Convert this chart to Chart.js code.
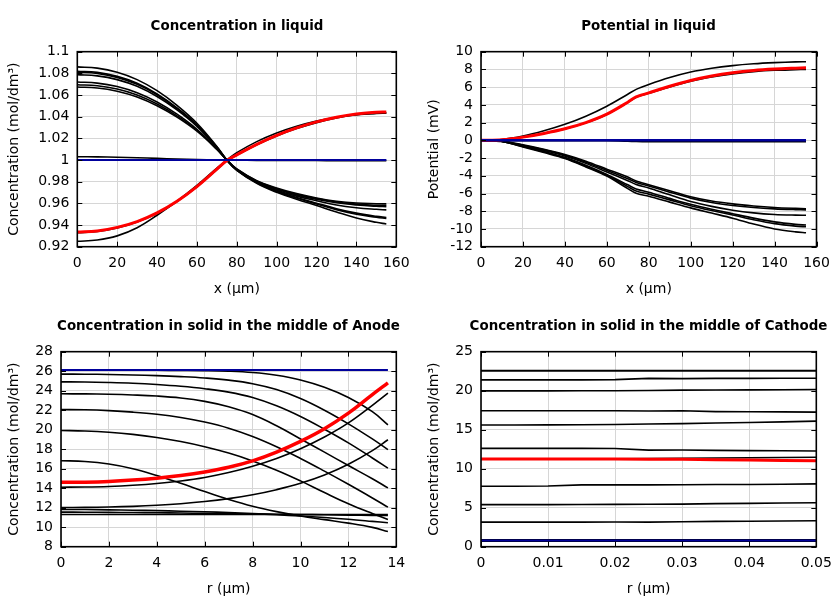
<!DOCTYPE html>
<html><head><meta charset="utf-8">
<script src="https://cdn.jsdelivr.net/npm/chart.js@4.4.0/dist/chart.umd.min.js"></script>
<style>
body{margin:0;background:#fff;}
#wrap{position:relative;width:840px;height:600px;background:#fff;overflow:hidden;}
.cell{position:absolute;height:300px;}
</style></head><body>
<div id="wrap">
<div class="cell" style="left:0;top:0"><canvas id="c1" width="474" height="300"></canvas></div>
<div class="cell" style="left:420px;top:0"><canvas id="c2" width="457" height="300"></canvas></div>
<div class="cell" style="left:0;top:300px"><canvas id="c3" width="457" height="300"></canvas></div>
<div class="cell" style="left:420px;top:300px"><canvas id="c4" width="457" height="300"></canvas></div>
</div>
<script>
// ---------- Concentration in liquid ----------
const liqX = [0,10,20,30,40,50,60,70,75,80,90,100,110,120,130,140,150,155];
const liqXTicks = [0,20,40,60,80,100,120,140,160];
const liqYTicks = [0.92,0.94,0.96,0.98,1,1.02,1.04,1.06,1.08,1.1];
const liqU1 = [1.0860,1.0848,1.0810,1.0742,1.0640,1.0505,1.0340,1.0125,1.0000,0.9905,0.9785,0.9702,0.9638,0.9580,0.9520,0.9465,0.9425,0.9410];
const liqU2 = [1.0820,1.0809,1.0772,1.0708,1.0610,1.0481,1.0324,1.0119,1.0000,0.9907,0.9790,0.9710,0.9650,0.9595,0.9542,0.9500,0.9472,0.9460];
const liqU3 = [1.0810,1.0799,1.0763,1.0699,1.0603,1.0475,1.0320,1.0117,1.0000,0.9908,0.9792,0.9713,0.9655,0.9602,0.9551,0.9510,0.9480,0.9470];
const liqU4 = [1.0788,1.0777,1.0742,1.0680,1.0586,1.0463,1.0311,1.0114,1.0000,0.9910,0.9796,0.9720,0.9667,0.9624,0.9585,0.9560,0.9545,0.9540];
const liqU5 = [1.0720,1.0710,1.0678,1.0621,1.0536,1.0423,1.0284,1.0104,1.0000,0.9913,0.9802,0.9730,0.9678,0.9638,0.9605,0.9585,0.9573,0.9570];
const liqU6 = [1.0695,1.0685,1.0655,1.0600,1.0517,1.0408,1.0275,1.0101,1.0000,0.9915,0.9806,0.9735,0.9683,0.9645,0.9613,0.9593,0.9583,0.9580];
const liqU7 = [1.0674,1.0665,1.0635,1.0582,1.0501,1.0396,1.0266,1.0098,1.0000,0.9917,0.9810,0.9742,0.9690,0.9650,0.9620,0.9603,0.9597,0.9595];
const liqL1 = [0.9250,0.9262,0.9300,0.9375,0.9490,0.9620,0.9765,0.9925,1.0000,1.0068,1.0170,1.0250,1.0312,1.0360,1.0395,1.0418,1.0430,1.0432];
const liqL2 = [0.9330,0.9340,0.9373,0.9428,0.9508,0.9617,0.9752,0.9912,0.9993,1.0045,1.0140,1.0222,1.0290,1.0345,1.0388,1.0418,1.0432,1.0436];
const liqRed = [0.9335,0.9345,0.9378,0.9432,0.9512,0.9620,0.9755,0.9915,0.9995,1.0048,1.0145,1.0228,1.0297,1.0352,1.0395,1.0425,1.0440,1.0443];
const liqFlat = [1.0030,1.0029,1.0026,1.0021,1.0015,1.0010,1.0005,1.0001,1.0000,0.9999,0.9997,0.9996,0.9995,0.9995,0.9994,0.9994,0.9994,0.9994];
const liqBlue = [1,1,1,1,1,1,1,1,1,1,1,1,1,1,1,1,1,1];

// ---------- Potential in liquid ----------
const potX = [0,10,20,30,40,50,60,70,74,80,90,100,110,120,130,140,150,155];
const potXTicks = [0,20,40,60,80,100,120,140,160];
const potYTicks = [-12,-10,-8,-6,-4,-2,0,2,4,6,8,10];
const potP1 = [0,0.1,0.48,1.07,1.8,2.72,3.85,5.2,5.75,6.3,7.08,7.7,8.13,8.43,8.63,8.76,8.85,8.87];
const potP2 = [0,0.07,0.35,0.77,1.28,1.97,2.92,4.27,4.87,5.3,6.03,6.68,7.15,7.5,7.75,7.9,7.97,8.0];
const potRed = [0,0.07,0.36,0.78,1.3,2.0,2.95,4.3,4.9,5.35,6.1,6.75,7.25,7.62,7.88,8.04,8.14,8.18];
const potN1 = [0,-0.09,-0.5,-1.0,-1.6,-2.35,-3.25,-4.15,-4.59,-5.0,-5.7,-6.36,-6.85,-7.17,-7.4,-7.57,-7.68,-7.72];
const potN2 = [0,-0.1,-0.55,-1.07,-1.68,-2.47,-3.4,-4.33,-4.75,-5.15,-5.85,-6.52,-7.02,-7.35,-7.58,-7.73,-7.82,-7.85];
const potN3 = [0,-0.11,-0.6,-1.15,-1.77,-2.6,-3.57,-4.55,-4.97,-5.37,-6.15,-6.9,-7.45,-7.88,-8.18,-8.36,-8.44,-8.46];
const potN4 = [0,-0.12,-0.66,-1.25,-1.92,-2.82,-3.85,-5.02,-5.49,-5.85,-6.55,-7.22,-7.78,-8.28,-8.78,-9.2,-9.48,-9.56];
const potN5 = [0,-0.13,-0.7,-1.31,-1.99,-2.92,-3.95,-5.22,-5.72,-6.07,-6.72,-7.37,-7.92,-8.42,-8.95,-9.4,-9.68,-9.75];
const potN6 = [0,-0.14,-0.75,-1.38,-2.05,-3.0,-4.03,-5.45,-5.98,-6.32,-6.97,-7.62,-8.2,-8.78,-9.45,-10.0,-10.33,-10.43];
const potFlat = [0,0,0,0,0,0,0,-0.05,-0.08,-0.1,-0.1,-0.1,-0.1,-0.1,-0.1,-0.1,-0.1,-0.1];
const potBlue = [0,0,0,0,0,0,0,0,0,0,0,0,0,0,0,0,0,0];

// ---------- Concentration in solid, Anode ----------
const anoR = [0,1,2,3,4,5,6,7,8,9,10,11,12,13,13.65];
const anoXTicks = [0,2,4,6,8,10,12,14];
const anoYTicks = [8,10,12,14,16,18,20,22,24,26,28];
const anoBlue = [26.13,26.13,26.13,26.13,26.13,26.13,26.13,26.13,26.13,26.13,26.13,26.13,26.13,26.13,26.13];
const anoA1 = [26.1,26.1,26.1,26.09,26.09,26.08,26.06,26.0,25.86,25.58,25.1,24.35,23.3,21.85,20.5];
const anoA2 = [25.7,25.69,25.66,25.61,25.54,25.44,25.3,25.08,24.72,24.12,23.2,22.0,20.6,19.05,17.95];
const anoA3 = [24.9,24.89,24.84,24.76,24.63,24.45,24.2,23.85,23.3,22.45,21.35,20.05,18.65,17.1,16.05];
const anoA4 = [23.68,23.67,23.63,23.56,23.45,23.25,22.9,22.35,21.55,20.4,19.05,17.7,16.32,14.97,14.03];
const anoA5 = [22.07,22.04,21.95,21.8,21.58,21.25,20.78,20.15,19.3,18.25,17.05,15.75,14.4,13.0,12.06];
const anoA6 = [19.92,19.87,19.74,19.52,19.2,18.78,18.25,17.6,16.8,15.85,14.75,13.55,12.4,11.4,10.8];
const anoA7 = [16.82,16.74,16.48,16.0,15.3,14.5,13.65,12.85,12.15,11.6,11.15,10.78,10.42,9.98,9.55];
const anoRed = [14.6,14.62,14.69,14.83,15.03,15.3,15.66,16.14,16.8,17.7,18.8,20.1,21.7,23.6,24.8];
const anoB14 = [14.1,14.12,14.18,14.3,14.48,14.74,15.1,15.6,16.25,17.05,18.05,19.25,20.7,22.5,23.75];
const anoB12 = [12.02,12.03,12.07,12.14,12.25,12.41,12.63,12.93,13.33,13.85,14.5,15.35,16.45,17.85,18.97];
const anoF1 = [11.82,11.81,11.78,11.74,11.7,11.64,11.58,11.5,11.4,11.28,11.15,11.0,10.82,10.6,10.45];
const anoF2 = [11.55,11.54,11.52,11.5,11.48,11.45,11.42,11.39,11.36,11.33,11.3,11.27,11.24,11.21,11.2];
const anoF3 = [11.3,11.3,11.3,11.3,11.3,11.3,11.3,11.3,11.3,11.3,11.3,11.3,11.3,11.3,11.3];

// ---------- Concentration in solid, Cathode ----------
const catR = [0,0.005,0.01,0.015,0.02,0.025,0.03,0.035,0.04,0.045,0.05];
const catXTicks = [0,0.01,0.02,0.03,0.04,0.05];
const catYTicks = [0,5,10,15,20,25];
const catC1 = [22.55,22.55,22.55,22.55,22.55,22.55,22.55,22.55,22.55,22.55,22.55];
const catC2 = [21.38,21.38,21.38,21.38,21.42,21.58,21.55,21.58,21.58,21.6,21.6];
const catC3 = [19.98,19.98,19.98,19.99,20.0,20.02,20.07,20.08,20.1,20.12,20.15];
const catC4 = [17.42,17.42,17.42,17.42,17.42,17.4,17.42,17.32,17.3,17.28,17.25];
const catC5 = [15.6,15.61,15.62,15.64,15.66,15.72,15.78,15.85,15.92,16.0,16.1];
const catC6 = [12.6,12.6,12.6,12.6,12.58,12.38,12.4,12.35,12.32,12.3,12.27];
const catRed = [11.25,11.25,11.25,11.25,11.24,11.22,11.2,11.15,11.1,11.06,11.03];
const catC7 = [11.25,11.25,11.25,11.26,11.28,11.3,11.33,11.37,11.4,11.43,11.46];
const catC8 = [7.75,7.75,7.78,7.92,7.93,7.92,7.95,7.97,7.98,8.0,8.05];
const catC9 = [5.4,5.4,5.4,5.41,5.42,5.45,5.46,5.52,5.55,5.6,5.63];
const catC10 = [3.15,3.15,3.15,3.15,3.16,3.15,3.2,3.25,3.27,3.3,3.33];
const catC11 = [0.8,0.8,0.8,0.8,0.8,0.8,0.8,0.8,0.8,0.8,0.8];
const catBlue = [0.8,0.8,0.8,0.8,0.8,0.8,0.8,0.8,0.8,0.8,0.8];

const FONT = 'DejaVu Sans';
const BLACK = '#000000', RED = '#ff0000', BLUE = '#00009c';

const framePlugin = {
  id: 'frame',
  afterDraw(chart) {
    const {ctx, chartArea: a, scales: {x, y}} = chart;
    ctx.save();
    ctx.strokeStyle = '#000';
    ctx.lineWidth = 1;
    ctx.beginPath();
    x.ticks.forEach(t => {
      const p = Math.round(x.getPixelForValue(t.value)) + 0.5;
      ctx.moveTo(p, a.bottom); ctx.lineTo(p, a.bottom - 5);
      ctx.moveTo(p, a.top); ctx.lineTo(p, a.top + 5);
    });
    y.ticks.forEach(t => {
      const p = Math.round(y.getPixelForValue(t.value)) + 0.5;
      ctx.moveTo(a.left, p); ctx.lineTo(a.left + 5, p);
      ctx.moveTo(a.right, p); ctx.lineTo(a.right - 5, p);
    });
    ctx.stroke();
    ctx.lineWidth = 1.6;
    ctx.strokeRect(a.left, a.top, a.right - a.left, a.bottom - a.top);
    ctx.restore();
  }
};

const fmt = v => String(parseFloat(Number(v).toFixed(4)));

function makeChart(id, cfg) {
  const datasets = cfg.series.map(s => ({
    data: cfg.x.map((xv, i) => ({x: xv, y: s.values[i]})),
    borderColor: s.color,
    borderWidth: s.width,
    pointRadius: 0,
    fill: false,
    tension: cfg.tension,
    order: s.order
  }));
  const tickFont = {family: FONT, size: 14};
  return new Chart(document.getElementById(id), {
    type: 'line',
    data: {datasets},
    options: {
      responsive: false,
      animation: false,
      events: [],
      layout: {padding: 0},
      plugins: {
        legend: {display: false},
        tooltip: {enabled: false},
        title: {
          display: true, text: cfg.title, color: '#000',
          font: {family: FONT, size: 13.4, weight: 'bold'},
          padding: {top: 18, bottom: 17.6}
        }
      },
      scales: {
        x: {
          type: 'linear', min: cfg.xTicks[0], max: cfg.xTicks[cfg.xTicks.length - 1],
          afterBuildTicks: a => { a.ticks = cfg.xTicks.map(v => ({value: v})); },
          afterFit: a => { a.height = 53.3; },
          grid: {color: '#d6d6d6', lineWidth: 1, drawTicks: false},
          border: {display: false},
          ticks: {color: '#000', font: tickFont, padding: 8, maxRotation: 0, autoSkip: false, callback: v => fmt(v)},
          title: {display: true, text: cfg.xTitle, color: '#000', font: tickFont, padding: {top: 4, bottom: 2}}
        },
        y: {
          type: 'linear', position: 'left', min: cfg.yTicks[0], max: cfg.yTicks[cfg.yTicks.length - 1],
          afterBuildTicks: a => { a.ticks = cfg.yTicks.map(v => ({value: v})); },
          afterFit: a => { a.width = cfg.yWidth; },
          grid: {color: '#d6d6d6', lineWidth: 1, drawTicks: false},
          border: {display: false},
          ticks: {color: '#000', font: tickFont, padding: 8, autoSkip: false, callback: v => fmt(v)},
          title: {display: true, text: cfg.yTitle, color: '#000', font: tickFont, padding: {top: 6, bottom: 0}}
        },
        spacer: {
          type: 'linear', position: 'right', display: true,
          afterFit: a => { a.width = cfg.padRight; },
          grid: {display: false, drawTicks: false},
          border: {display: false},
          ticks: {display: false}
        }
      }
    },
    plugins: [framePlugin]
  });
}

const blk = (values) => ({values, color: BLACK, width: 1.6, order: 2});

makeChart('c1', {
  title: 'Concentration in liquid', xTitle: 'x (µm)', yTitle: 'Concentration (mol/dm³)',
  x: liqX, xTicks: liqXTicks, yTicks: liqYTicks, yWidth: 77.3, padRight: 77.7, tension: 0.4,
  series: [
    {values: liqBlue, color: BLUE, width: 2, order: 0},
    {values: liqRed, color: RED, width: 3, order: 1},
    blk(liqU1), blk(liqU2), blk(liqU3), blk(liqU4), blk(liqU5), blk(liqU6), blk(liqU7),
    blk(liqL1), blk(liqL2), blk(liqFlat)
  ]
});

makeChart('c2', {
  title: 'Potential in liquid', xTitle: 'x (µm)', yTitle: 'Potential (mV)',
  x: potX, xTicks: potXTicks, yTicks: potYTicks, yWidth: 61, padRight: 60.5, tension: 0.3,
  series: [
    {values: potBlue, color: BLUE, width: 2.5, order: 0},
    {values: potRed, color: RED, width: 3, order: 1},
    blk(potP1), blk(potP2), blk(potN1), blk(potN2), blk(potN3), blk(potN4), blk(potN5), blk(potN6),
    {values: potFlat, color: BLACK, width: 2.5, order: 2}
  ]
});

makeChart('c3', {
  title: 'Concentration in solid in the middle of Anode', xTitle: 'r (µm)', yTitle: 'Concentration (mol/dm³)',
  x: anoR, xTicks: anoXTicks, yTicks: anoYTicks, yWidth: 61, padRight: 60.7, tension: 0.4,
  series: [
    {values: anoBlue, color: BLUE, width: 2, order: 0},
    {values: anoRed, color: RED, width: 3.5, order: 1},
    blk(anoA1), blk(anoA2), blk(anoA3), blk(anoA4), blk(anoA5), blk(anoA6), blk(anoA7),
    blk(anoB14), blk(anoB12), blk(anoF1), blk(anoF2), blk(anoF3)
  ]
});

makeChart('c4', {
  title: 'Concentration in solid in the middle of Cathode', xTitle: 'r (µm)', yTitle: 'Concentration (mol/dm³)',
  x: catR, xTicks: catXTicks, yTicks: catYTicks, yWidth: 61, padRight: 60.7, tension: 0,
  series: [
    {values: catBlue, color: BLUE, width: 2, order: 0},
    {values: catRed, color: RED, width: 3, order: 1},
    {values: catC1, color: BLACK, width: 2, order: 2},
    blk(catC2), blk(catC3), blk(catC4), blk(catC5), blk(catC6), blk(catC7), blk(catC8), blk(catC9), blk(catC10),
    {values: catC11, color: BLACK, width: 3, order: 2}
  ]
});
</script>
</body></html>
